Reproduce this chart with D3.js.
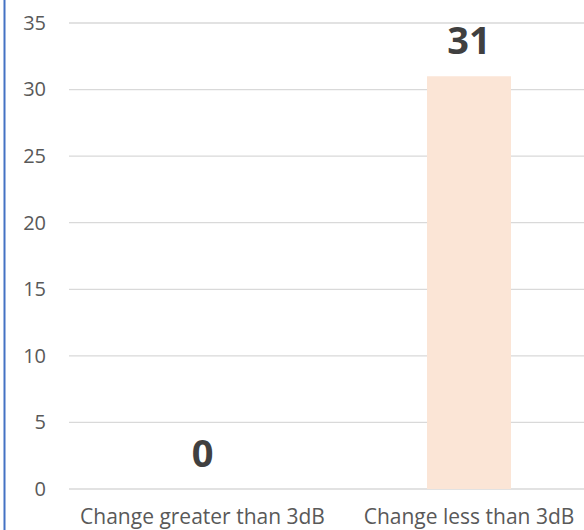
<!DOCTYPE html>
<html>
<head>
<meta charset="utf-8">
<script src="https://cdn.jsdelivr.net/npm/d3@7"></script>
<style>
  html, body { margin: 0; padding: 0; background: #fff; }
  svg { display: block; font-family: "Open Sans", sans-serif; }
</style>
</head>
<body>
<div id="chart"></div>
<script>
// données
const categories = ["Change greater than 3dB", "Change less than 3dB"];
const values = [0, 31];
const yTicks = [0, 5, 10, 15, 20, 25, 30, 35];

const width = 584, height = 530;

const svg = d3.select("#chart").append("svg")
    .attr("width", width).attr("height", height);

// bordure bleue à gauche
svg.append("line")
    .attr("x1", 4.5).attr("x2", 4.5).attr("y1", 0).attr("y2", height)
    .attr("stroke", "#4472C4").attr("stroke-width", 2);

const x = d3.scaleBand().domain(categories)
    .range([69.25, 602.25]).paddingInner(0.685).paddingOuter(0.3425);
const y = d3.scaleLinear().domain([0, 35]).range([489, 23]);

// grille
svg.append("g").selectAll("line").data(yTicks).join("line")
    .attr("x1", 69).attr("x2", width)
    .attr("y1", d => y(d)).attr("y2", d => y(d))
    .attr("stroke", "#D9D9D9").attr("stroke-width", 1.3);

// axe Y (texte seulement)
const yAxis = svg.append("g").attr("transform", "translate(46,0)")
    .call(d3.axisLeft(y).tickValues(yTicks).tickSize(0).tickPadding(0));
yAxis.select(".domain").remove();
yAxis.selectAll("text")
    .attr("font-family", "Open Sans").attr("font-size", 20).attr("fill", "#595959");

// barres
svg.append("g").selectAll("rect").data(values).join("rect")
    .attr("x", (d, i) => x(categories[i]))
    .attr("width", x.bandwidth())
    .attr("y", d => y(d))
    .attr("height", d => y(0) - y(d))
    .attr("fill", "#FBE5D6");

// étiquettes de valeur
svg.append("g").selectAll("text").data(values).join("text")
    .attr("x", (d, i) => x(categories[i]) + x.bandwidth() / 2)
    .attr("y", d => y(d) - 22)
    .attr("text-anchor", "middle")
    .attr("font-size", 38).attr("font-weight", "bold").attr("fill", "#404040")
    .text(d => d);

// axe X
const xAxis = svg.append("g").attr("transform", `translate(0,${y(0)})`)
    .call(d3.axisBottom(x).tickSize(0).tickPadding(0));
xAxis.select(".domain").remove();
xAxis.selectAll("text")
    .attr("dy", null).attr("y", 35)
    .attr("font-family", "Open Sans").attr("font-size", 21).attr("fill", "#595959");
</script>
</body>
</html>
